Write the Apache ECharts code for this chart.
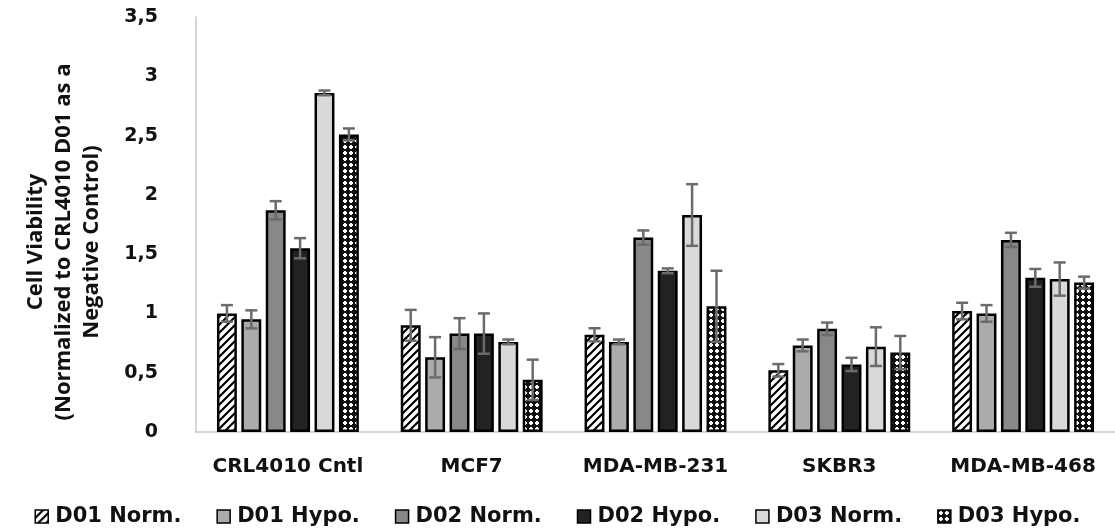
<!DOCTYPE html>
<html>
<head>
<meta charset="utf-8">
<script src="https://cdn.jsdelivr.net/npm/echarts@6/dist/echarts.min.js"></script>
<style>html,body{margin:0;padding:0;background:#fff;}#chart{width:1115px;height:531px;}</style>
</head>
<body>
<div id="chart"></div>
<script>
// ---- data ----
const categories = ['CRL4010 Cntl', 'MCF7', 'MDA-MB-231', 'SKBR3', 'MDA-MB-468'];
const seriesNames = ['D01 Norm.', 'D01 Hypo.', 'D02 Norm.', 'D02 Hypo.', 'D03 Norm.', 'D03 Hypo.'];
const d01Norm = [1.00, 0.90, 0.82, 0.52, 1.02];
const d01Hypo = [0.95, 0.63, 0.76, 0.73, 1.00];
const d02Norm = [1.87, 0.83, 1.64, 0.87, 1.62];
const d02Hypo = [1.55, 0.83, 1.36, 0.57, 1.30];
const d03Norm = [2.86, 0.76, 1.83, 0.72, 1.29];
const d03Hypo = [2.51, 0.44, 1.06, 0.67, 1.26];
const d01NormErr = [0.07, 0.13, 0.055, 0.053, 0.07];
const d01HypoErr = [0.076, 0.17, 0.02, 0.05, 0.07];
const d02NormErr = [0.077, 0.13, 0.06, 0.053, 0.06];
const d02HypoErr = [0.085, 0.17, 0.02, 0.056, 0.075];
const d03NormErr = [0.02, 0.02, 0.26, 0.163, 0.14];
const d03HypoErr = [0.05, 0.17, 0.30, 0.14, 0.05];
const yTicks = [0, 0.5, 1, 1.5, 2, 2.5, 3, 3.5];

const values = [d01Norm, d01Hypo, d02Norm, d02Hypo, d03Norm, d03Hypo];
const errors = [d01NormErr, d01HypoErr, d02NormErr, d02HypoErr, d03NormErr, d03HypoErr];

// ---- patterns ----
function hatchCanvas() {
  const c = document.createElement('canvas'); c.width = 8; c.height = 8;
  const g = c.getContext('2d');
  g.fillStyle = '#fff'; g.fillRect(0, 0, 8, 8);
  g.strokeStyle = '#000'; g.lineWidth = 2.2;
  g.beginPath();
  g.moveTo(-2, 10); g.lineTo(10, -2);
  g.moveTo(-6, 6); g.lineTo(6, -6);
  g.moveTo(2, 14); g.lineTo(14, 2);
  g.stroke();
  return c;
}
function checkCanvas() {
  const c = document.createElement('canvas'); c.width = 6; c.height = 6;
  const g = c.getContext('2d');
  g.fillStyle = '#111'; g.fillRect(0, 0, 6, 6);
  g.fillStyle = '#fff';
  g.fillRect(1, 2, 4, 2); g.fillRect(2, 1, 2, 4);
  return c;
}
const hatch = { image: hatchCanvas(), repeat: 'repeat' };
const check = { image: checkCanvas(), repeat: 'repeat' };
const fills = [hatch, '#ababab', '#888888', '#222222', '#d9d9d9', check];

const catGap = 0.228, barGapR = 0.225;
const labelFont = 'DejaVu Sans';

const chart = echarts.init(document.getElementById('chart'), null, { renderer: 'canvas' });

const series = [];
seriesNames.forEach((name, i) => {
  series.push({
    name: name, type: 'bar', data: values[i],
    barCategoryGap: (catGap * 100) + '%', barGap: (barGapR * 100) + '%',
    itemStyle: { color: fills[i], borderColor: '#000', borderWidth: 2.5 },
    z: 2
  });
});
seriesNames.forEach((name, i) => {
  series.push({
    type: 'custom', silent: true, z: 5,
    data: values[i].map((v, k) => [k, v, errors[i][k]]),
    encode: { x: 0, y: 1 },
    renderItem: function (params, api) {
      const k = api.value(0), v = api.value(1), e = api.value(2);
      const band = api.size([1, 0])[0];
      const usable = band * (1 - catGap);
      const bw = usable / (6 + 5 * barGapR);
      const step = bw * (1 + barGapR);
      const center = api.coord([k, v]);
      const x = center[0] - usable / 2 + bw / 2 + i * step;
      const yHi = api.coord([k, v + e])[1];
      const yLo = api.coord([k, v - e])[1];
      const cap = 6;
      const st = { stroke: '#6b6b6b', lineWidth: 2.5 };
      return { type: 'group', children: [
        { type: 'line', shape: { x1: x, y1: yHi, x2: x, y2: yLo }, style: st },
        { type: 'line', shape: { x1: x - cap, y1: yHi, x2: x + cap, y2: yHi }, style: st },
        { type: 'line', shape: { x1: x - cap, y1: yLo, x2: x + cap, y2: yLo }, style: st }
      ]};
    }
  });
});

chart.setOption({
  animation: false,
  backgroundColor: '#fff',
  grid: { left: 196, right: -4, top: 17, bottom: 99, containLabel: false },
  legend: {
    data: seriesNames, bottom: -1, left: 'center',
    itemWidth: 13, itemHeight: 13, itemGap: 35,
    icon: 'rect',
    itemStyle: { borderColor: '#000', borderWidth: 1.5 },
    textStyle: { fontFamily: labelFont, fontWeight: 'bold', fontSize: 21, color: '#111', padding: [0, 0, 0, 2] }
  },
  xAxis: {
    type: 'category', data: categories,
    axisLine: { lineStyle: { color: '#c8c8c8', width: 1.5 } },
    axisTick: { show: false },
    axisLabel: { interval: 0, fontFamily: labelFont, fontWeight: 'bold', fontSize: 20, color: '#111', margin: 25 }
  },
  yAxis: {
    type: 'value', min: 0, max: 3.5, interval: 0.5,
    axisLine: { show: true, lineStyle: { color: '#c8c8c8', width: 1.5 } },
    axisTick: { show: false },
    splitLine: { show: false },
    axisLabel: {
      fontFamily: labelFont, fontWeight: 'bold', fontSize: 19, color: '#111', margin: 38,
      formatter: v => yTicks.indexOf(v) >= 0 ? String(v).replace('.', ',') : ''
    }
  },
  graphic: [{
    type: 'text', x: 64, y: 242, rotation: Math.PI / 2,
    style: {
      text: 'Cell Viability\n(Normalized to CRL4010 D01 as a\nNegative Control)',
      align: 'center', verticalAlign: 'middle', lineHeight: 28,
      font: 'bold 22px "Open Sans", sans-serif', fill: '#111'
    }
  }],
  series: series
});
</script>
</body>
</html>
